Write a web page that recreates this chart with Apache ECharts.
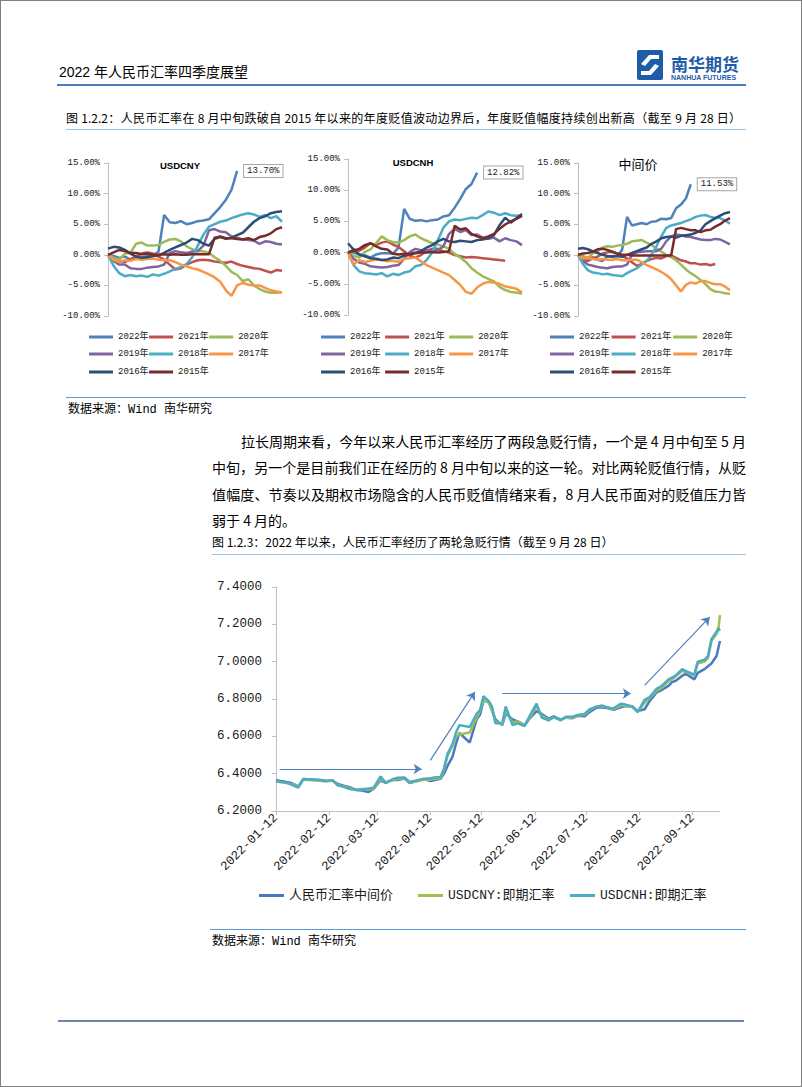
<!DOCTYPE html>
<html><head><meta charset="utf-8">
<script src="https://cdn.jsdelivr.net/npm/echarts@6/dist/echarts.min.js"></script>
<style>
html,body{margin:0;padding:0;background:#fff;}
#page{position:relative;width:802px;height:1087px;overflow:hidden;background:#fff;}
#border{position:absolute;left:0;top:0;width:802px;height:1087px;box-sizing:border-box;border:1px solid #808080;z-index:9;pointer-events:none;}
#chart{position:absolute;left:0;top:0;width:802px;height:1087px;}
.t{position:absolute;white-space:nowrap;color:#000;font-family:'Noto Sans CJK SC',sans-serif;z-index:3;}
.m{font-family:'Liberation Mono','Noto Sans CJK SC',monospace;}
.j{text-align:justify;text-align-last:justify;}
.rule{position:absolute;z-index:3;}
</style></head>
<body><div id="page">
<div id="chart"></div>

<div class="t" style="left:59px;top:62px;font-size:14px;line-height:20px;font-family:'Liberation Sans Narrow','Liberation Sans','Noto Sans CJK SC',sans-serif;">2022 年人民币汇率四季度展望</div>
<div class="rule" style="left:57px;top:84px;width:689px;height:2px;background:#4a7ebb;"></div>
<svg style="position:absolute;left:636px;top:49px;z-index:3" width="130" height="34">
  <rect x="1" y="1" width="26" height="30" rx="2" fill="#1f5ca8"/>
  <path d="M5 15 L13 6 L23 6 L23 10 L15 10 L9 17 Z" fill="#fff"/>
  <path d="M23 17 L15 26 L5 26 L5 22 L13 22 L19 15 Z" fill="#fff"/>
  <text x="35" y="22" font-size="17" font-weight="bold" fill="#1f5ca8" font-family="Noto Sans CJK SC">南华期货</text>
  <text x="35" y="31" font-size="7" font-weight="bold" fill="#1f5ca8" font-family="Liberation Sans">NANHUA FUTURES</text>
</svg>

<div class="t j" style="left:66px;top:109px;width:675px;font-size:12px;line-height:18px;">图 1.2.2：人民币汇率在 8 月中旬跌破自 2015 年以来的年度贬值波动边界后，年度贬值幅度持续创出新高（截至 9 月 28 日）</div>
<div class="rule" style="left:66px;top:129px;width:680px;height:1px;background:#9dc3e6;"></div>

<div class="rule" style="left:66px;top:397px;width:680px;height:1px;background:#5b9bd5;"></div>
<div class="t m" style="left:68px;top:402px;font-size:12px;line-height:16px;">数据来源：Wind 南华研究</div>

<div class="t j" style="left:212px;top:430px;width:505px;padding-left:29px;font-size:14px;line-height:22px;">拉长周期来看，今年以来人民币汇率经历了两段急贬行情，一个是 4 月中旬至 5 月</div>
<div class="t j" style="left:212px;top:456px;width:534px;font-size:14px;line-height:22px;">中旬，另一个是目前我们正在经历的 8 月中旬以来的这一轮。对比两轮贬值行情，从贬</div>
<div class="t j" style="left:212px;top:483px;width:534px;font-size:14px;line-height:22px;">值幅度、节奏以及期权市场隐含的人民币贬值情绪来看，8 月人民币面对的贬值压力皆</div>
<div class="t" style="left:212px;top:509px;font-size:14px;line-height:22px;">弱于 4 月的。</div>

<div class="t" style="left:212px;top:533px;font-size:12px;line-height:18px;">图 1.2.3：2022 年以来，人民币汇率经历了两轮急贬行情（截至 9 月 28 日）</div>
<div class="rule" style="left:212px;top:554px;width:534px;height:1px;background:#9dc3e6;"></div>

<div class="rule" style="left:210px;top:929px;width:536px;height:1px;background:#5b9bd5;"></div>
<div class="t m" style="left:212px;top:934px;font-size:12px;line-height:16px;">数据来源：Wind 南华研究</div>

<div class="rule" style="left:58px;top:1020px;width:686px;height:1px;background:#7f7f7f;"></div>
<div class="rule" style="left:58px;top:1021px;width:686px;height:1px;background:#5b8fd0;"></div>
<div id="border"></div>
</div>
<script>
// ---------------- data ----------------
const YEARS = ['2022年','2021年','2020年','2019年','2018年','2017年','2016年','2015年'];
const SMALL_X = [0,8,16,24,32,40,48,56,64,72,80,88,96,104,112,120,128,136,144,152,160,168,176,184,192,200,208,216,224,232,240,248];
const SMALL_TITLES = ['USDCNY','USDCNH','中间价'];
const Y_TICK_PCT = [-10, -5, 0, 5, 10, 15];

// USDCNY (% change from start of year)
const CNY_2022 = [0,-0.2,-0.5,-0.3,-0.8,-0.5,-0.4,-0.2,-0.1,0.5,6.5,5.3,5.2,5.5,5.0,5.2,5.5,5.6,5.8,6.8,7.8,9.0,10.6,13.70];
const CNY_2021 = [0,-0.9,-1.0,-1.2,-0.7,-0.3,0.2,0.4,0.2,-0.3,-0.8,-1.6,-2.4,-2.2,-1.6,-1.2,-0.9,-0.8,-0.9,-1.1,-1.2,-1.3,-1.1,-1.5,-1.8,-2.0,-2.2,-2.3,-2.6,-2.9,-2.5,-2.6];
const CNY_2020 = [0,-0.5,-0.8,0.2,0.3,1.8,2.0,1.5,1.5,1.6,2.1,2.5,2.6,2.2,1.4,0.9,0.6,0.6,0.3,-0.4,-1.0,-1.8,-2.8,-3.3,-4.3,-4.0,-5.0,-5.6,-6.0,-6.2,-6.2,-6.1];
const CNY_2019 = [0,-1.0,-1.6,-1.6,-2.2,-2.3,-2.3,-2.1,-2.0,-1.9,-1.6,0.3,0.6,0.4,0.3,0.5,0.6,1.5,4.0,4.2,3.8,3.7,3.0,2.8,2.5,2.4,2.3,1.8,2.2,2.1,1.8,1.7];
const CNY_2018 = [0,-1.8,-3.0,-3.5,-3.3,-3.5,-3.4,-3.6,-3.2,-3.4,-3.1,-2.7,-2.3,-2.0,-1.5,-0.4,1.5,3.3,4.6,5.0,5.4,5.6,6.0,6.3,6.6,6.8,6.6,6.2,6.5,6.0,6.3,5.4];
const CNY_2017 = [0,-0.8,-1.2,-0.9,-1.0,-0.7,-0.8,-0.7,-0.6,-0.8,-0.9,-0.9,-1.2,-1.6,-1.9,-2.2,-2.4,-2.8,-3.2,-3.7,-4.4,-5.8,-6.7,-5.0,-4.6,-4.9,-5.0,-5.0,-5.4,-5.8,-6.0,-6.2];
const CNY_2016 = [1.0,1.3,1.2,0.8,0.2,-0.3,-0.5,-0.4,-0.2,-0.1,0.3,0.8,1.2,1.6,2.0,2.6,2.4,1.8,1.5,2.6,2.9,2.6,2.8,3.2,3.6,4.5,5.4,6.0,6.3,6.8,7.0,7.1];
const CNY_2015 = [0,0.4,0.8,0.6,0.3,0.3,0.1,0.2,0.0,0.0,0.1,0.0,0.1,0.0,0.0,0.1,0.1,0.1,0.1,2.8,3.0,2.7,2.7,2.6,2.5,2.7,2.4,2.9,3.1,3.5,4.2,4.5];

// USDCNH
const CNH_2022 = [0,0.0,-0.3,-0.4,-0.8,-0.3,-0.1,-0.1,-0.2,0.8,7.0,5.4,5.1,5.2,5.0,5.2,5.3,5.8,6.0,7.2,8.6,10.2,11.0,12.82];
const CNH_2021 = [0,0.5,0.3,0.8,1.5,1.2,1.6,1.8,1.3,0.9,0.2,-0.5,-0.8,-0.4,0.3,0.6,0.6,0.2,0.0,-0.4,-0.6,-0.8,-0.7,-0.8,-0.9,-1.0,-1.1,-1.2,-1.3];
const CNH_2020 = [0,-0.5,-0.8,0.1,0.5,1.5,2.6,2.0,1.7,1.6,2.0,2.6,2.9,2.3,1.9,1.5,1.3,1.0,0.6,-0.2,-0.8,-1.5,-2.5,-3.2,-3.8,-4.2,-4.6,-5.5,-6.0,-6.3,-6.4,-6.6];
const CNH_2019 = [0,-1.0,-1.6,-1.8,-2.2,-2.3,-2.4,-2.3,-2.1,-2.0,-1.0,0.1,0.6,0.4,0.3,0.5,0.4,1.0,3.0,3.8,3.3,3.6,2.8,2.9,2.4,2.2,2.4,1.8,2.3,2.0,1.8,1.2];
const CNH_2018 = [0,-2.0,-3.0,-3.3,-3.4,-3.5,-3.3,-3.8,-3.4,-3.6,-3.2,-3.0,-2.2,-2.0,-1.2,0.0,2.0,4.0,5.0,5.3,5.2,5.4,5.6,5.5,6.0,6.6,6.4,6.0,6.3,6.0,5.9,6.0];
const CNH_2017 = [0,-1.9,-1.2,-1.5,-1.3,-1.1,-1.2,-1.4,-1.3,-1.5,-1.0,-0.9,-0.8,-1.4,-2.0,-2.4,-2.8,-3.2,-3.6,-4.4,-5.2,-6.3,-6.6,-5.6,-5.0,-4.7,-4.8,-5.0,-5.4,-5.6,-5.8,-6.4];
const CNH_2016 = [1.5,0.5,-0.3,-0.6,-0.9,-1.0,-1.2,-1.1,-0.8,-0.9,-0.5,-0.2,0.0,0.2,0.8,1.2,1.8,2.2,1.8,1.7,1.9,1.8,1.7,2.0,2.1,2.3,2.8,4.4,5.6,4.8,5.5,6.2];
const CNH_2015 = [0,0.3,0.6,1.2,1.5,1.0,0.6,0.5,-0.2,-0.3,-0.2,-0.3,-0.1,0.0,0.0,0.1,0.0,0.1,0.2,4.3,3.7,3.9,3.0,2.6,2.3,2.6,3.0,3.8,4.5,5.0,5.4,5.9];

// 中间价
const MID_2022 = [0,-0.2,-0.6,-0.4,-0.8,-1.0,-0.3,-0.2,-0.2,0.8,6.2,4.8,5.0,5.2,5.0,5.4,5.5,5.9,5.8,6.0,7.6,8.2,9.2,11.53];
const MID_2021 = [0,-0.8,-1.0,-0.6,-0.3,0.2,0.4,0.5,0.2,-0.2,-0.6,-1.2,-1.8,-1.5,-1.0,-0.7,-0.5,-0.6,-0.2,-0.1,-0.5,-0.9,-1.1,-1.4,-1.4,-1.6,-1.5,-1.7,-1.5];
const MID_2020 = [0,-0.3,-0.5,0.2,0.6,1.2,1.4,1.3,1.5,1.6,1.8,2.2,2.3,2.4,2.0,1.6,1.0,0.5,0.0,-0.4,-0.9,-1.6,-2.4,-3.0,-3.5,-4.1,-4.8,-5.6,-6.0,-6.1,-6.3,-6.4];
const MID_2019 = [0,-1.0,-1.6,-1.8,-2.0,-2.1,-2.2,-2.0,-1.9,-1.9,-1.6,0.0,0.4,0.5,0.6,0.6,0.6,1.0,2.2,3.0,3.3,3.2,3.0,2.9,2.7,2.5,2.4,2.4,2.6,2.5,2.1,1.7];
const MID_2018 = [0,-1.5,-2.5,-2.9,-3.0,-3.2,-3.1,-3.3,-3.4,-3.5,-3.0,-2.6,-2.2,-1.6,-1.0,0.0,1.4,3.0,4.4,4.8,5.0,5.2,5.5,5.8,6.2,6.4,6.5,6.2,6.0,6.0,5.6,5.1];
const MID_2017 = [0,-0.6,-0.5,-0.7,-0.8,-0.7,-0.8,-0.8,-0.7,-0.9,-0.9,-0.8,-0.8,-1.2,-1.7,-2.0,-2.4,-2.8,-3.3,-4.0,-5.0,-6.0,-4.9,-4.5,-4.7,-4.3,-4.3,-4.6,-4.8,-4.8,-5.2,-5.8];
const MID_2016 = [1.0,1.1,0.9,0.6,0.3,0.0,-0.2,-0.3,-0.2,-0.3,0.0,0.3,0.6,0.9,1.2,1.8,2.2,2.7,2.9,3.0,2.8,3.1,3.2,3.3,3.6,4.0,5.0,5.5,6.0,6.4,6.8,7.0];
const MID_2015 = [0,0.2,0.3,0.5,0.9,1.0,0.8,0.5,0.2,0.0,0.0,-0.1,-0.1,-0.1,-0.1,-0.1,-0.1,-0.1,-0.1,-0.1,4.2,4.4,4.2,4.0,4.0,3.7,4.0,4.1,4.6,5.0,5.6,6.0];

// Big chart
const BIG_NAMES = ['人民币汇率中间价','USDCNY:即期汇率','USDCNH:即期汇率'];
const BIG_DATES = [
 '2022-01-12','2022-01-14','2022-01-18','2022-01-21','2022-01-25','2022-01-28',
 '2022-02-07','2022-02-10','2022-02-14','2022-02-17','2022-02-21','2022-02-24','2022-02-28',
 '2022-03-03','2022-03-07','2022-03-10','2022-03-14','2022-03-17','2022-03-21','2022-03-24','2022-03-28','2022-03-31',
 '2022-04-06','2022-04-08','2022-04-12','2022-04-14','2022-04-18','2022-04-20','2022-04-22','2022-04-25','2022-04-27','2022-04-29',
 '2022-05-05','2022-05-09','2022-05-11','2022-05-13','2022-05-16','2022-05-18','2022-05-20','2022-05-24','2022-05-26','2022-05-30',
 '2022-06-02','2022-06-06','2022-06-09','2022-06-13','2022-06-16','2022-06-20','2022-06-23','2022-06-27','2022-06-30',
 '2022-07-04','2022-07-07','2022-07-11','2022-07-14','2022-07-18','2022-07-21','2022-07-25','2022-07-28',
 '2022-08-01','2022-08-04','2022-08-08','2022-08-11','2022-08-15','2022-08-18','2022-08-22','2022-08-25','2022-08-29','2022-08-31',
 '2022-09-02','2022-09-06','2022-09-08','2022-09-13','2022-09-15','2022-09-19','2022-09-21','2022-09-23','2022-09-26','2022-09-27','2022-09-28'];
const MID_RATE = [
 6.366,6.362,6.356,6.350,6.332,6.372,
 6.366,6.362,6.362,6.345,6.334,6.328,6.312,
 6.310,6.302,6.320,6.364,6.350,6.368,6.366,6.374,6.350,
 6.366,6.372,6.360,6.365,6.372,6.400,6.440,6.491,6.560,6.618,
 6.567,6.690,6.715,6.790,6.786,6.740,6.690,6.660,6.723,6.690,
 6.680,6.660,6.696,6.735,6.720,6.695,6.707,6.690,6.700,
 6.697,6.710,6.708,6.730,6.754,6.756,6.750,6.742,
 6.755,6.762,6.758,6.735,6.745,6.790,6.835,6.848,6.870,6.890,
 6.897,6.925,6.935,6.905,6.940,6.960,6.975,6.990,7.030,7.072,7.111];
const CNY_SPOT = [
 6.362,6.355,6.350,6.345,6.330,6.368,
 6.362,6.358,6.363,6.340,6.330,6.322,6.315,
 6.318,6.315,6.318,6.372,6.355,6.365,6.372,6.375,6.352,
 6.362,6.368,6.368,6.372,6.375,6.420,6.495,6.550,6.600,6.610,
 6.620,6.700,6.735,6.795,6.780,6.745,6.680,6.665,6.740,6.675,
 6.680,6.660,6.700,6.760,6.710,6.690,6.700,6.688,6.700,
 6.700,6.712,6.715,6.740,6.760,6.760,6.755,6.745,
 6.765,6.765,6.755,6.730,6.780,6.805,6.845,6.860,6.895,6.905,
 6.920,6.950,6.945,6.925,6.990,7.000,7.020,7.110,7.150,7.170,7.250];
const CNH_SPOT = [
 6.360,6.358,6.352,6.342,6.325,6.372,
 6.365,6.360,6.365,6.338,6.328,6.318,6.312,
 6.315,6.320,6.325,6.385,6.350,6.370,6.378,6.380,6.355,
 6.368,6.372,6.375,6.380,6.382,6.428,6.505,6.560,6.620,6.660,
 6.650,6.720,6.740,6.815,6.790,6.760,6.670,6.670,6.760,6.660,
 6.670,6.655,6.710,6.775,6.700,6.685,6.705,6.685,6.705,
 6.705,6.715,6.720,6.745,6.758,6.765,6.752,6.750,
 6.775,6.770,6.760,6.730,6.795,6.810,6.855,6.870,6.905,6.915,
 6.925,6.960,6.950,6.930,7.000,7.010,7.030,7.120,7.160,7.180,7.165];
const BIG_X_TICKS = ['2022-01-12','2022-02-12','2022-03-12','2022-04-12','2022-05-12','2022-06-12','2022-07-12','2022-08-12','2022-09-12'];
const BIG_X_RANGE = ['2022-01-12','2022-09-28'];
const BIG_Y_RANGE = [6.2, 7.4, 0.2];
// trend arrows [start date, value] -> [end date, value]
const ARROWS = [
 [['2022-01-14',6.425],['2022-04-07',6.425]],
 [['2022-04-12',6.471],['2022-05-08',6.838]],
 [['2022-05-24',6.829],['2022-08-07',6.829]],
 [['2022-08-15',6.873],['2022-09-22',7.239]]
];

// ---------------- styles / layout ----------------
const YEAR_COLORS = ['#4f81bd','#c0504d','#9bbb59','#8064a2','#4bacc6','#f79646','#2c4d75','#772c2a'];
const BIG_COLORS = ['#4a78c4','#a0c050','#4bacc6'];
const SMALL_DATA = [
 [CNY_2022,CNY_2021,CNY_2020,CNY_2019,CNY_2018,CNY_2017,CNY_2016,CNY_2015],
 [CNH_2022,CNH_2021,CNH_2020,CNH_2019,CNH_2018,CNH_2017,CNH_2016,CNH_2015],
 [MID_2022,MID_2021,MID_2020,MID_2019,MID_2018,MID_2017,MID_2016,MID_2015]
];
const SMALL_GRIDS = [
 {left:108, top:163, width:174, height:153},
 {left:348, top:159, width:174, height:156},
 {left:578, top:163, width:152, height:153}
];
const SMALL_TITLE_POS = [[180,165],[413,162],[638,163]];
const LEGEND_LEFT = [89,321,550];
const LEGEND_GAP = [0.5,4.5,2];
const LEGEND_ROW_CENTER = [338.5,355.5,373.5];
const BIG_LEGEND_LEFT = [259,418,570];

const MONO = "'Liberation Mono','Noto Sans CJK SC',monospace";
const TITLE_FONT = "bold 9.5px 'Liberation Sans'";

const ts = s => { const p = s.split('-').map(Number); return new Date(p[0], p[1]-1, p[2]).getTime(); };
const pad = n => (n<10?'0':'')+n;
const fmtDate = v => { const d = new Date(v); return d.getFullYear()+'-'+pad(d.getMonth()+1)+'-'+pad(d.getDate()); };

const grids=[], xAxes=[], yAxes=[], series=[], legends=[], graphics=[];
SMALL_GRIDS.forEach((g,c)=>{
  grids.push(Object.assign({outerBoundsMode:'none', containLabel:false}, g));
  xAxes.push({type:'value', gridIndex:c, min:0, max:SMALL_X[SMALL_X.length-1], show:false});
  yAxes.push({type:'value', gridIndex:c, min:Y_TICK_PCT[0], max:Y_TICK_PCT[Y_TICK_PCT.length-1], interval:5,
    axisLine:{show:true, lineStyle:{color:'#bfbfbf', width:1}},
    axisTick:{show:true, length:4, lineStyle:{color:'#bfbfbf'}},
    splitLine:{show:false},
    axisLabel:{formatter:v=>v.toFixed(2)+'%', margin:8, fontSize:9, fontFamily:MONO, color:'#1a1a1a'}});
  SMALL_DATA[c].forEach((vals,k)=>{
    const s = {type:'line', name:YEARS[k], xAxisIndex:c, yAxisIndex:c,
      data: vals.map((v,i)=>[SMALL_X[i], v]),
      symbol:'none', showSymbol:false, lineStyle:{width:2.5, color:YEAR_COLORS[k]}, itemStyle:{color:YEAR_COLORS[k]},
      emphasis:{disabled:true}};
    if(k===0){
      s.endLabel = {show:true, distance:7, formatter:p=>p.value[1].toFixed(2)+'%',
        backgroundColor:'#fff', borderColor:'#a6a6a6', borderWidth:1, padding:[2,3,1,3],
        fontSize:9, fontFamily:MONO, color:'#1a1a1a'};
    }
    series.push(s);
  });
  graphics.push({type:'text', x:SMALL_TITLE_POS[c][0], y:SMALL_TITLE_POS[c][1],
    style:{text:SMALL_TITLES[c], fill:'#000', align:'center', verticalAlign:'middle',
      font: c===2 ? "13px 'Noto Sans CJK SC'" : TITLE_FONT}});
  for(let r=0;r<3;r++){
    legends.push({data:YEARS.slice(r*3,r*3+3), left:LEGEND_LEFT[c], top:LEGEND_ROW_CENTER[r]-6, padding:0,
      icon:'rect', itemWidth:24, itemHeight:3, itemGap:LEGEND_GAP[c], selectedMode:false,
      textStyle:{fontSize:9, fontFamily:MONO, color:'#1a1a1a'}});
  }
});

// big chart (x = date as timestamp on a value axis)
const B = 3;
grids.push({left:276, top:587, width:444, height:224, outerBoundsMode:'none', containLabel:false});
const tickTs = BIG_X_TICKS.map(ts);
xAxes.push({type:'value', gridIndex:B, min:ts(BIG_X_RANGE[0]), max:ts(BIG_X_RANGE[1]),
  axisLine:{show:true, lineStyle:{color:'#bfbfbf'}},
  axisTick:{show:true, customValues:tickTs, length:4, lineStyle:{color:'#bfbfbf'}},
  axisLabel:{customValues:tickTs, rotate:45, formatter:v=>fmtDate(v), fontSize:12.5, fontFamily:MONO, color:'#1a1a1a', margin:5},
  splitLine:{show:false}});
yAxes.push({type:'value', gridIndex:B, min:BIG_Y_RANGE[0], max:BIG_Y_RANGE[1], interval:BIG_Y_RANGE[2],
  axisLine:{show:true, lineStyle:{color:'#bfbfbf'}},
  axisTick:{show:true, length:4, lineStyle:{color:'#bfbfbf'}},
  splitLine:{show:false},
  axisLabel:{formatter:v=>v.toFixed(4), fontSize:12.5, fontFamily:MONO, color:'#1a1a1a', margin:14}});
[MID_RATE, CNY_SPOT, CNH_SPOT].forEach((vals,k)=>{
  const s = {type:'line', name:BIG_NAMES[k], xAxisIndex:B, yAxisIndex:B,
    data: vals.map((v,i)=>[ts(BIG_DATES[i]), v]),
    symbol:'none', showSymbol:false, lineStyle:{width:2.5, color:BIG_COLORS[k]}, itemStyle:{color:BIG_COLORS[k]},
    emphasis:{disabled:true}};
  if(k===2){
    s.markLine = {silent:true, symbol:['none','arrow'], symbolSize:8, label:{show:false},
      lineStyle:{color:'#4f81bd', width:1.2, type:'solid'}, emphasis:{disabled:true},
      data: ARROWS.map(a=>[{coord:[ts(a[0][0]), a[0][1]]},{coord:[ts(a[1][0]), a[1][1]]}])};
  }
  series.push(s);
  legends.push({data:[BIG_NAMES[k]], left:BIG_LEGEND_LEFT[k], top:889, padding:0, icon:'rect', itemWidth:25, itemHeight:3,
    selectedMode:false, textStyle:{fontSize:13, fontFamily:MONO, color:'#1a1a1a'}});
});

const chart = echarts.init(document.getElementById('chart'), null, {renderer:'svg'});
chart.setOption({animation:false, backgroundColor:'transparent', grid:grids, xAxis:xAxes, yAxis:yAxes,
  legend:legends, series, graphic:graphics, tooltip:{show:false}});
</script>
</body></html>
